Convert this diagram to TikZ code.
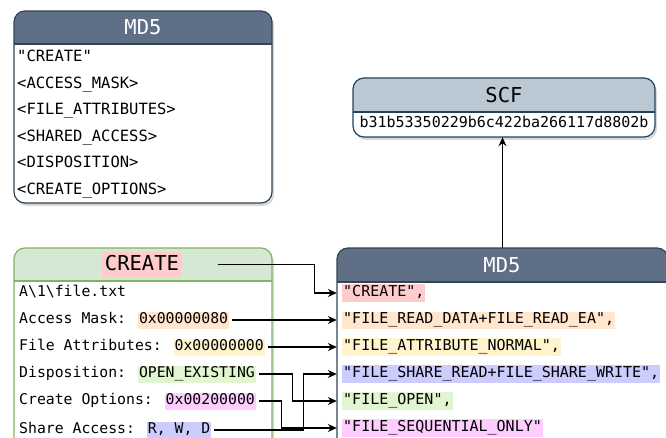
\documentclass[tikz,border=0pt]{standalone}
\usepackage{fontspec}
\newfontfamily\codefont{DejaVu Sans Mono}
\usetikzlibrary{arrows.meta,fit,calc}

\definecolor{slatefill}{HTML}{5F7086}
\definecolor{slateline}{HTML}{314354}
\definecolor{bluefill}{HTML}{BAC8D3}
\definecolor{blueline}{HTML}{23445D}
\definecolor{greenfill}{HTML}{D5E8D4}
\definecolor{greenline}{HTML}{82B366}
\definecolor{hlred}{HTML}{FFCCCC}
\definecolor{hlorange}{HTML}{FFE6CC}
\definecolor{hlyellow}{HTML}{FFF4CC}
\definecolor{hlgreen}{HTML}{E1F5D0}
\definecolor{hlblue}{HTML}{CCCCFF}
\definecolor{hlpink}{HTML}{FFCCFF}

% highlighted value inside a row
\newcommand\hlbox[2]{{\setlength\fboxsep{1pt}\colorbox{#1}{\rule[-4pt]{0pt}{15pt}#2}}}
% highlighted title inside a header
\newcommand\hdrhl[2]{{\setlength\fboxsep{2.5pt}\colorbox{#1}{\rule[-4.5pt]{0pt}{20pt}#2}}}

% table box: name, x1, y1, x2, y2, header bottom, header fill, stroke
\newcommand\tablebox[8]{%
  \fill[black, opacity=0.15, rounded corners=11pt] (#2+2,#3+3) rectangle (#4+2,#5+3);
  \fill[white, rounded corners=11pt] (#2,#3) rectangle (#4,#5);
  \begin{scope}
    \clip[rounded corners=11pt] (#2,#3) rectangle (#4,#5);
    \fill[#7] (#2,#3) rectangle (#4,#6);
  \end{scope}
  \draw[#8, line width=1.2pt] (#2,#6) -- (#4,#6);
  \draw[#8, line width=1.2pt, rounded corners=11pt] (#2,#3) rectangle (#4,#5);
  \node[fit={(#2,#3) (#4,#5)}, inner sep=0pt] (#1) {};
}

\tikzset{
  hdr/.style={font=\codefont\fontsize{20.5}{24}\selectfont, inner sep=0pt},
  row/.style={font=\codefont\fontsize{15}{18}\selectfont, anchor=west,
    inner sep=0pt, text height=12pt, text depth=5pt},
  toprow/.style={row, font=\codefont\fontsize{15.5}{18}\selectfont},
  leftrow/.style={row, font=\codefont\fontsize{14.8}{18}\selectfont},
  conn/.style={line width=1.3pt, -{Stealth[length=9pt,width=8pt,inset=3pt]},
    shorten <=3pt},
}

\begin{document}
\begin{tikzpicture}[x=1pt, y=-1pt]
\useasboundingbox (0,0) rectangle (666,438);
\clip (0,0) rectangle (666,438);

% template of the hash input
\tablebox{md5a}{14}{11}{272}{203}{44}{slatefill}{slateline}
\node[hdr, text=white] (md5a-t) at (143,27.5) {MD5};
\node[toprow] (md5a-1) at (17,58)  {"CREATE"};
\node[toprow] (md5a-2) at (17,85)  {<ACCESS\_MASK>};
\node[toprow] (md5a-3) at (17,111) {<FILE\_ATTRIBUTES>};
\node[toprow] (md5a-4) at (17,138) {<SHARED\_ACCESS>};
\node[toprow] (md5a-5) at (17,164) {<DISPOSITION>};
\node[toprow] (md5a-6) at (17,191) {<CREATE\_OPTIONS>};

% resulting hash
\tablebox{scf}{353}{78}{655}{137}{112}{bluefill}{blueline}
\node[hdr] (scf-t) at (504,95) {SCF};
\node[row, anchor=center] (scf-1) at (504,124.5) {b31b53350229b6c422ba266117d8802b};

% the CREATE operation
\tablebox{crt}{14}{248}{272}{470}{281}{greenfill}{greenline}
\node[hdr] (crt-t) at (142,264.5) {\hdrhl{hlred}{CREATE}};
\node[leftrow] (crt-1) at (19,293) {A\textbackslash 1\textbackslash{}file.txt};
\node[leftrow] (crt-2) at (19,320) {Access Mask: \hlbox{hlorange}{0x00000080}};
\node[leftrow] (crt-3) at (19,347) {File Attributes: \hlbox{hlyellow}{0x00000000}};
\node[leftrow] (crt-4) at (19,374) {Disposition: \hlbox{hlgreen}{OPEN\_EXISTING}};
\node[leftrow] (crt-5) at (19,401) {Create Options: \hlbox{hlpink}{0x00200000}};
\node[leftrow] (crt-6) at (19,430) {Share Access: \hlbox{hlblue}{R, W, D}};

% concrete hash input
\tablebox{md5b}{337}{248}{668}{470}{282}{slatefill}{slateline}
\node[hdr, text=white] (md5b-t) at (502,265) {MD5};
\node[row] (md5b-1) at (342,293) {\hlbox{hlred}{"CREATE",}};
\node[row] (md5b-2) at (342,320) {\hlbox{hlorange}{"FILE\_READ\_DATA+FILE\_READ\_EA",}};
\node[row] (md5b-3) at (342,347) {\hlbox{hlyellow}{"FILE\_ATTRIBUTE\_NORMAL",}};
\node[row] (md5b-4) at (342,374) {\hlbox{hlblue}{"FILE\_SHARE\_READ+FILE\_SHARE\_WRITE",}};
\node[row] (md5b-5) at (342,401) {\hlbox{hlgreen}{"FILE\_OPEN",}};
\node[row] (md5b-6) at (342,428) {\hlbox{hlpink}{"FILE\_SEQUENTIAL\_ONLY"}};

% connectors
\draw[conn, shorten <=36pt] (crt-t.east) -| ($(md5b-1.west -| md5b.west)+(-22,0)$)
  -- (md5b-1.west -| md5b.west);
\draw[conn] (crt-2.east) -- (md5b-2.west -| md5b.west);
\draw[conn] (crt-3.east) -- (md5b-3.west -| md5b.west);
\draw[conn] (crt-4.east) -| ($(md5b-5.west -| md5b.west)+(-44,0)$)
  -- (md5b-5.west -| md5b.west);
\draw[conn] (crt-5.east) -| ($(md5b-6.west -| md5b.west)+(-55,0)$)
  -- (md5b-6.west -| md5b.west);
\draw[conn] (crt-6.east) -| ($(md5b-4.west -| md5b.west)+(-33,0)$)
  -- (md5b-4.west -| md5b.west);
\draw[conn, shorten <=0pt] (md5b.north) -- (md5b.north |- scf.south);
\end{tikzpicture}
\end{document}
